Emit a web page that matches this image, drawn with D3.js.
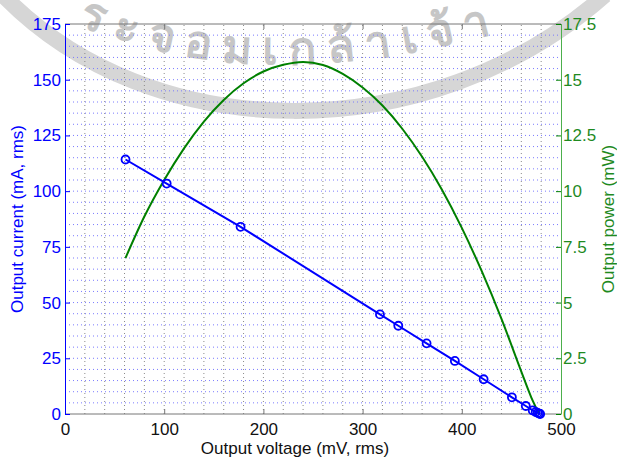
<!DOCTYPE html>
<html>
<head>
<meta charset="utf-8">
<script src="https://cdn.jsdelivr.net/npm/d3@7"></script>
<style>
  body { margin: 0; background: #fff; }
  svg text { font-family: "Liberation Sans", Arial, sans-serif; }
</style>
</head>
<body>
<div id="chart"></div>
<script>
"use strict";

// measured points (output voltage in mV, output current in mA)
let voltage = [61, 102.5, 177, 317.5, 336, 364.5, 393, 422, 450.5, 464.5, 471.5, 474.5, 476.5, 478, 479];
let current = [114.2, 103.4, 84.0, 44.7, 39.6, 31.7, 23.8, 15.6, 7.5, 3.6, 1.6, 0.9, 0.5, 0.2, 0];

// output power curve (mV vs mW)
let power_v = [61, 80, 100, 120, 140, 160, 180, 200, 220, 240, 260, 280, 300, 320, 340, 360, 380, 400, 420, 440, 460, 470, 478];
let power_p = [7.0, 8.86, 10.5, 11.92, 13.12, 14.09, 14.84, 15.37, 15.67, 15.8, 15.66, 15.26, 14.65, 13.84, 12.8, 11.54, 10.06, 8.35, 6.42, 4.27, 1.9, 0.75, 0];

let x_ticks = [0, 100, 200, 300, 400, 500];
let left_ticks = [0, 25, 50, 75, 100, 125, 150, 175];
let right_ticks = [0, 2.5, 5, 7.5, 10, 12.5, 15, 17.5];

let width = 617, height = 457;
let margin = {top: 24, right: 56, bottom: 43, left: 65};
let blue = "#0000ff", green = "#008000";

let svg = d3.select("#chart").append("svg").attr("width", width).attr("height", height);

let x = d3.scaleLinear().domain([0, 500]).range([margin.left, width - margin.right]);
let y = d3.scaleLinear().domain([0, 175]).range([height - margin.bottom, margin.top]);
let y2 = d3.scaleLinear().domain([0, 17.5]).range([height - margin.bottom, margin.top]);

// watermark (seal from the scanned page)
svg.append("path").attr("d", "M0,-8 C150,150 430,150 605,-5")
    .attr("fill", "none").attr("stroke", "#d6d6d6").attr("stroke-width", 16);
svg.append("path").attr("id", "wmpath").attr("d", "M62,18 Q285,122 615,-6").attr("fill", "none");
svg.append("text").attr("fill", "#c6c6c6").attr("font-size", 46).attr("font-weight", "bold")
    .attr("letter-spacing", 11)
    .append("textPath").attr("href", "#wmpath").attr("startOffset", "3%")
    .style("font-family", "'Noto Sans', 'DejaVu Sans', sans-serif")
    .text("ระจอมเกล้าเจ้า");

// grid
let grid = svg.append("g");
grid.selectAll(".vg").data(d3.range(20, 500, 20)).join("line")
    .attr("x1", d => x(d)).attr("x2", d => x(d))
    .attr("y1", y(0)).attr("y2", y(175))
    .attr("stroke", "#8a8a8a").attr("stroke-width", 1).attr("stroke-dasharray", "1,3");
grid.selectAll(".hg").data(d3.range(5, 175, 5)).join("line")
    .attr("x1", x(0)).attr("x2", x(500))
    .attr("y1", d => y(d)).attr("y2", d => y(d))
    .attr("stroke", "#7a7aff").attr("stroke-width", 1).attr("stroke-dasharray", "1,3");

// frame top / bottom
svg.append("line").attr("x1", x(0)).attr("x2", x(500)).attr("y1", y(175)).attr("y2", y(175)).attr("stroke", "#777");
svg.append("line").attr("x1", x(0)).attr("x2", x(500)).attr("y1", y(0)).attr("y2", y(0)).attr("stroke", "#777");

let fmt = d => String(d);

// bottom axis
let xb = svg.append("g").attr("transform", "translate(0," + y(0) + ")")
    .call(d3.axisBottom(x).tickValues(x_ticks).tickFormat(fmt).tickSizeInner(-5).tickSizeOuter(0).tickPadding(9));
xb.select(".domain").remove();
xb.selectAll("line").attr("stroke", "#777");
xb.selectAll("text").attr("fill", "#111").attr("font-size", 17);
let xt = svg.append("g").attr("transform", "translate(0," + y(175) + ")")
    .call(d3.axisTop(x).tickValues(x_ticks).tickSizeInner(-5).tickSizeOuter(0).tickFormat(""));
xt.select(".domain").remove();
xt.selectAll("line").attr("stroke", "#777");

// left axis
let yl = svg.append("g").attr("transform", "translate(" + x(0) + ",0)")
    .call(d3.axisLeft(y).tickValues(left_ticks).tickFormat(fmt).tickSizeInner(-5).tickSizeOuter(0).tickPadding(4));
yl.select(".domain").attr("stroke", blue);
yl.selectAll("line").attr("stroke", blue);
yl.selectAll("text").attr("fill", blue).attr("font-size", 17);

// right axis
let yr = svg.append("g").attr("transform", "translate(" + x(500) + ",0)")
    .call(d3.axisRight(y2).tickValues(right_ticks).tickFormat(fmt).tickSizeInner(-5).tickSizeOuter(0).tickPadding(2));
yr.select(".domain").attr("stroke", "#4caf4c");
yr.selectAll("line").attr("stroke", green);
yr.selectAll("text").attr("fill", "#1f8a1f").attr("font-size", 17);

// axis titles
svg.append("text").attr("x", 295).attr("y", 454).attr("text-anchor", "middle")
    .attr("font-size", 17).attr("fill", "#111").text("Output voltage (mV, rms)");
svg.append("text").attr("transform", "translate(23," + (y(0) + y(175)) / 2 + ") rotate(-90)")
    .attr("text-anchor", "middle").attr("font-size", 17).attr("fill", blue).text("Output current (mA, rms)");
svg.append("text").attr("transform", "translate(614," + (y(0) + y(175)) / 2 + ") rotate(-90)")
    .attr("text-anchor", "middle").attr("font-size", 17).attr("fill", "#1f8a1f").text("Output power (mW)");

// power curve
svg.append("path").datum(d3.zip(power_v, power_p))
    .attr("fill", "none").attr("stroke", green).attr("stroke-width", 2)
    .attr("d", d3.line().x(d => x(d[0])).y(d => y2(d[1])).curve(d3.curveMonotoneX));

// current line + markers
let pts = d3.zip(voltage, current);
svg.append("path").datum(pts)
    .attr("fill", "none").attr("stroke", blue).attr("stroke-width", 2)
    .attr("d", d3.line().x(d => x(d[0])).y(d => y(d[1])));
svg.selectAll(".mk").data(pts).join("circle")
    .attr("cx", d => x(d[0])).attr("cy", d => y(d[1])).attr("r", 4)
    .attr("fill", "none").attr("stroke", blue).attr("stroke-width", 1.8);
</script>
</body>
</html>
